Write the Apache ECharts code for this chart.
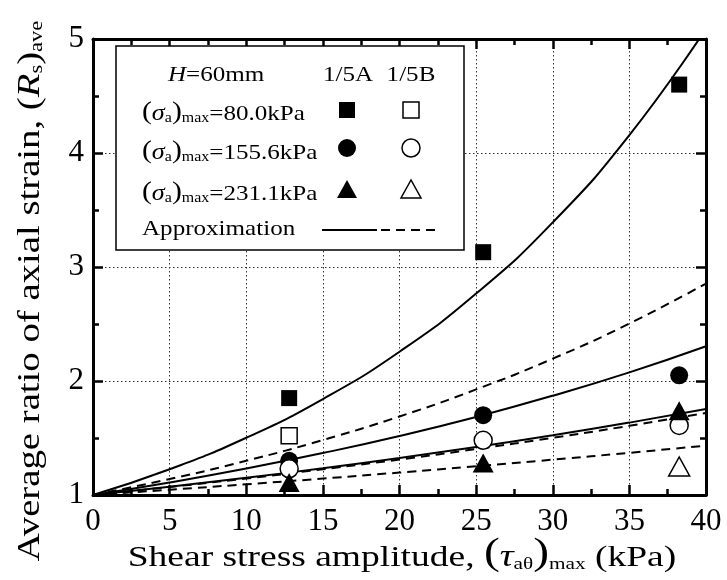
<!DOCTYPE html>
<html><head><meta charset="utf-8">
<script src="https://cdn.jsdelivr.net/npm/echarts@6/dist/echarts.min.js"></script>
<style>html,body{margin:0;padding:0;background:#fff}#c{width:727px;height:580px}</style>
</head><body><div id="c"></div>
<script>
// ---- data ----
const xTicks = [0, 5, 10, 15, 20, 25, 30, 35, 40];
const yTicks = [1, 2, 3, 4, 5];
// markers: [shear stress amplitude, average ratio]
const squareA   = [[12.8, 1.85], [25.46, 3.13], [38.25, 4.60]];
const squareB   = [[12.8, 1.52]];
const circleA   = [[12.8, 1.30], [25.46, 1.70], [38.25, 2.05]];
const circleB   = [[12.8, 1.23], [25.46, 1.48], [38.25, 1.61]];
const triangleA = [[12.8, 1.11], [25.46, 1.28], [38.25, 1.74]];
const triangleB = [[38.25, 1.25]];
// approximation curves read at x = 0,5,...,40
const curveX = [0, 5, 10, 15, 20, 25, 30, 35, 40];
const fitSquareA   = [1, 1.226, 1.502, 1.842, 2.257, 2.767, 3.391, 4.157, 5.09];
const fitSquareB   = [1, 1.140, 1.300, 1.482, 1.689, 1.926, 2.196, 2.504, 2.855];
const fitCircleA   = [1, 1.110, 1.232, 1.368, 1.518, 1.685, 1.871, 2.076, 2.305];
const fitCircleB   = [1, 1.070, 1.145, 1.226, 1.311, 1.403, 1.502, 1.607, 1.720];
const fitTriangleA = [1, 1.073, 1.151, 1.235, 1.325, 1.421, 1.524, 1.635, 1.754];
const fitTriangleB = [1, 1.046, 1.094, 1.144, 1.197, 1.252, 1.310, 1.370, 1.433];

const FONT = '"Liberation Serif", "Times New Roman", serif';
const chart = echarts.init(document.getElementById('c'));

function pts(ys){ return curveX.map((x,i)=>[x, ys[i]]); }
function fitLine(ys, dashed){
  return { type:'line', data: pts(ys), smooth:true, showSymbol:false, symbol:'none', silent:true, z:3,
    lineStyle:{ color:'#000', width:2, type: dashed ? [9,6] : 'solid' }, clip:true };
}
function markers(data, symbol, size, filled, z){
  return { type:'scatter', data, symbol, symbolSize:size, z, silent:true,
    itemStyle: filled ? { color:'#000', opacity:1 } : { color:'#fff', borderColor:'#000', borderWidth:1.5, opacity:1 } };
}
const axisCommon = {
  axisLine:{ show:true, onZero:false, lineStyle:{ color:'#000', width:3 } },
  axisTick:{ show:true, inside:true, length:10, lineStyle:{ color:'#000', width:2.5 } },
  minorTick:{ show:true, splitNumber:2, length:6, lineStyle:{ color:'#000', width:2.5 } },
};
const gridDots = { color:'#333', width:1, type:[1.5,2.5] };
const labelStyle = { color:'#000', fontFamily:FONT, fontSize:31 };

const sub = (s)=>({ fontFamily:FONT, fontSize:s, color:'#000', verticalAlign:'bottom', lineHeight:s+1 });
const LF = 22, LS = 1.14; // legend font size and horizontal scale

chart.setOption({
  animation:false,
  backgroundColor:'#fff',
  grid:{ left:93, right:21, top:39, bottom:85, containLabel:false },
  xAxis:[
    Object.assign({ type:'value', min:0, max:40, interval:5, position:'bottom',
      axisLabel:Object.assign({ margin:11, formatter:(v)=> xTicks.includes(v)? String(v):'' }, labelStyle),
      splitLine: { show:true, lineStyle:gridDots } }, axisCommon),
    Object.assign({ type:'value', min:0, max:40, interval:5, position:'top',
      axisLabel:{ show:false }, splitLine:{ show:false } }, axisCommon)
  ],
  yAxis:[
    Object.assign({ type:'value', min:1, max:5, interval:1, position:'left',
      axisLabel:Object.assign({ margin:9, formatter:(v)=> yTicks.includes(v)? String(v):'' }, labelStyle),
      splitLine: { show:true, lineStyle:gridDots } }, axisCommon),
    Object.assign({ type:'value', min:1, max:5, interval:1, position:'right',
      axisLabel:{ show:false }, splitLine:{ show:false } }, axisCommon)
  ],
  series:[
    fitLine(fitSquareA,false), fitLine(fitSquareB,true),
    fitLine(fitCircleA,false), fitLine(fitCircleB,true),
    fitLine(fitTriangleA,false), fitLine(fitTriangleB,true),
    markers(squareA,'rect',16,true,5),
    markers(squareB,'rect',16,false,6),
    markers(circleA,'circle',18,true,7),
    markers(circleB,'circle',18,false,8),
    markers(triangleA,'triangle',[21,19],true,9),
    markers(triangleB,'triangle',[21,19],false,10),
  ],
  graphic:[
    // legend box
    { type:'rect', z:20, shape:{ x:116, y:46, width:348, height:204 },
      style:{ fill:'#fff', stroke:'#000', lineWidth:1.5 } },
    { type:'text', z:21, x:168, y:75, scaleX:LS, style:{ text:'{i|H}{n|=60mm}', verticalAlign:'middle', align:'left',
      rich:{ i:{ fontFamily:FONT, fontSize:LF, fontStyle:'italic', color:'#000' }, n:{ fontFamily:FONT, fontSize:LF, color:'#000' } } } },
    { type:'text', z:21, x:348, y:75, scaleX:LS, style:{ text:'1/5A', font:LF+'px '+FONT, fill:'#000', align:'center', verticalAlign:'middle' } },
    { type:'text', z:21, x:411, y:75, scaleX:LS, style:{ text:'1/5B', font:LF+'px '+FONT, fill:'#000', align:'center', verticalAlign:'middle' } },
    ...[['80.0',110],['155.6',149],['231.1',190]].map(([v,y])=>({
      type:'text', z:21, x:142, y:y, scaleX:LS, style:{
        text:'{p|(}{s|σ}{a|a}{p|)}{m|max}{n|=' + v + 'kPa}', align:'left', verticalAlign:'middle',
        rich:{ p:{ fontFamily:FONT, fontSize:26, color:'#000', lineHeight:30, verticalAlign:'bottom' },
               s:{ fontFamily:FONT, fontSize:LF+1, fontStyle:'italic', color:'#000', lineHeight:30, verticalAlign:'bottom' },
               a:sub(14), m:sub(14),
               n:{ fontFamily:FONT, fontSize:LF, color:'#000', lineHeight:29, verticalAlign:'bottom' } } } })),
    { type:'rect', z:21, shape:{ x:339, y:102, width:16, height:16 }, style:{ fill:'#000' } },
    { type:'rect', z:21, shape:{ x:403, y:102, width:16, height:16 }, style:{ fill:'#fff', stroke:'#000', lineWidth:1.5 } },
    { type:'circle', z:21, shape:{ cx:347, cy:148, r:9 }, style:{ fill:'#000' } },
    { type:'circle', z:21, shape:{ cx:411, cy:148, r:9 }, style:{ fill:'#fff', stroke:'#000', lineWidth:1.5 } },
    { type:'polygon', z:21, shape:{ points:[[347,180],[337,198],[357,198]] }, style:{ fill:'#000' } },
    { type:'polygon', z:21, shape:{ points:[[411,180],[401,198],[421,198]] }, style:{ fill:'#fff', stroke:'#000', lineWidth:1.5 } },
    { type:'text', z:21, x:142, y:229, scaleX:LS, style:{ text:'Approximation', font:LF+'px '+FONT, fill:'#000', align:'left', verticalAlign:'middle' } },
    { type:'line', z:21, shape:{ x1:322, y1:230, x2:377, y2:230 }, style:{ stroke:'#000', lineWidth:2 } },
    { type:'line', z:21, shape:{ x1:381, y1:230, x2:438, y2:230 }, style:{ stroke:'#000', lineWidth:2, lineDash:[9,6] } },
    // x-axis title
    { type:'text', z:21, x:402, y:553, scaleX:1.25, style:{
        text:'{n|Shear stress amplitude, }{P|(}{t|τ}{a|aθ}{P|)}{m|max}{n| (kPa)}', align:'center', verticalAlign:'middle',
        rich:{ n:{ fontFamily:FONT, fontSize:30, color:'#000', lineHeight:38, verticalAlign:'bottom' },
               P:{ fontFamily:FONT, fontSize:38, color:'#000', lineHeight:40, verticalAlign:'bottom' },
               t:{ fontFamily:FONT, fontSize:31, fontStyle:'italic', color:'#000', lineHeight:38, verticalAlign:'bottom' },
               a:{ fontFamily:FONT, fontSize:17, color:'#000', lineHeight:26, verticalAlign:'bottom' },
               m:{ fontFamily:FONT, fontSize:17, color:'#000', lineHeight:24, verticalAlign:'bottom' } } } },
    // y-axis title
    { type:'text', z:21, x:28, y:291, rotation:Math.PI/2, scaleX:1.25, style:{
        text:'{n|Average ratio of axial strain, (}{r|R}{s|s}{n|)}{s|ave}', align:'center', verticalAlign:'middle',
        rich:{ n:{ fontFamily:FONT, fontSize:31, color:'#000', lineHeight:36, verticalAlign:'bottom' },
               r:{ fontFamily:FONT, fontSize:31, fontStyle:'italic', color:'#000', lineHeight:36, verticalAlign:'bottom' },
               s:{ fontFamily:FONT, fontSize:18, color:'#000', lineHeight:21, verticalAlign:'bottom' } } } },
  ]
});
</script></body></html>
